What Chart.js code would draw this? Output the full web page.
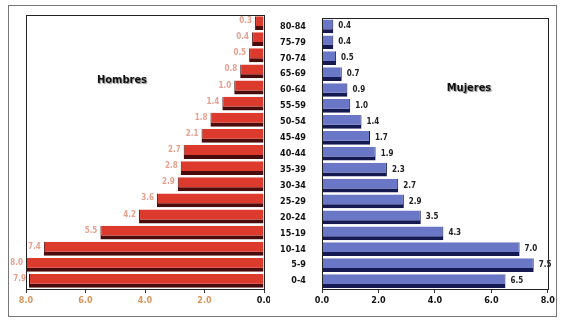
<!DOCTYPE html>
<html>
<head>
<meta charset="utf-8">
<script src="https://cdn.jsdelivr.net/npm/chart.js@4/dist/chart.umd.min.js"></script>
<style>
  body { margin:0; background:#fff; }
  #wrap { position:relative; width:563px; height:321px; background:#fff; }
  .box { position:absolute; }
</style>
</head>
<body>
<div id="wrap">
  <div class="box" style="left:8px;top:5px;width:547px;height:310px;border:1px solid #777;"></div>
  <div class="box" style="left:8px;top:5px;width:262px;height:311px;"><canvas id="c-hombres"></canvas></div>
  <div class="box" style="left:270px;top:5px;width:287px;height:311px;"><canvas id="c-mujeres"></canvas></div>
</div>
<script>
// grupos de edad, de arriba a abajo
const ageGroups = ['80-84','75-79','70-74','65-69','60-64','55-59','50-54','45-49','40-44','35-39','30-34','25-29','20-24','15-19','10-14','5-9','0-4'];
const hombres = [0.3, 0.4, 0.5, 0.8, 1.0, 1.4, 1.8, 2.1, 2.7, 2.8, 2.9, 3.6, 4.2, 5.5, 7.4, 8.0, 7.9];
const mujeres = [0.4, 0.4, 0.5, 0.7, 0.9, 1.0, 1.4, 1.7, 1.9, 2.3, 2.7, 2.9, 3.5, 4.3, 7.0, 7.5, 6.5];
const xTicks = [0, 2, 4, 6, 8];

const FONT = "'Liberation Sans Narrow', 'DejaVu Sans Condensed', 'Liberation Sans', Arial, sans-serif";

function framePlugin(title, tx, ty, labelSide, labelColor) {
  return {
    id: 'extras',
    afterDatasetsDraw(chart) {
      const ctx = chart.ctx, a = chart.chartArea;
      ctx.save();
      ctx.strokeStyle = '#222'; ctx.lineWidth = 1;
      ctx.strokeRect(Math.round(a.left) + 0.5, Math.round(a.top) + 0.5, Math.round(a.right - a.left), Math.round(a.bottom - a.top));
      // etiquetas de valor
      ctx.font = 'bold 8px ' + FONT;
      ctx.fillStyle = labelColor;
      ctx.textBaseline = 'middle';
      const meta = chart.getDatasetMeta(0);
      meta.data.forEach((el, i) => {
        const v = chart.data.datasets[0].data[i].toFixed(1);
        if (labelSide === 'left') { ctx.textAlign = 'right'; ctx.fillText(v, el.x - 3, el.y - 2); }
        else { ctx.textAlign = 'left'; ctx.fillText(v, el.x + 5, el.y); }
      });
      // titulo
      ctx.font = 'bold 11px ' + FONT;
      ctx.fillStyle = '#111';
      ctx.textAlign = 'center';
      ctx.shadowColor = 'rgba(0,0,0,0.45)'; ctx.shadowOffsetX = 1; ctx.shadowOffsetY = 1; ctx.shadowBlur = 1;
      ctx.fillText(title, tx, ty);
      ctx.restore();
    }
  };
}

function xScale(reverse, tickColor) {
  return {
    min: 0, max: 8, reverse,
    afterBuildTicks: s => { s.ticks = xTicks.map(v => ({ value: v })); },
    afterFit: s => { s.height = 18; },
    grid: { display: true, drawOnChartArea: false, drawTicks: true, tickLength: 4, color: '#333' },
    border: { display: false },
    ticks: { padding: 2, color: tickColor, font: { family: FONT, size: 9, weight: 'bold' }, callback: v => v.toFixed(1) }
  };
}

Chart.defaults.font.family = FONT;

new Chart(document.getElementById('c-hombres'), {
  type: 'bar',
  data: { labels: ageGroups, datasets: [{
    data: hombres,
    backgroundColor: '#dc3a2c',
    borderColor: '#4a0c0c',
    borderWidth: { top: 0, bottom: 4, left: 1, right: 0 },
    borderSkipped: false,
    barPercentage: 0.86, categoryPercentage: 1
  }] },
  options: {
    indexAxis: 'y', responsive: true, maintainAspectRatio: false, animation: false,
    layout: { padding: { left: 18, right: 6, top: 10, bottom: 9 } },
    plugins: { legend: { display: false }, tooltip: { enabled: false } },
    scales: {
      x: xScale(true, ctx => ctx.tick && ctx.tick.value === 0 ? '#111' : '#d8955a'),
      y: { position: 'right', display: false }
    }
  },
  plugins: [framePlugin('Hombres', 114, 75, 'left', '#e8a090')]
});

new Chart(document.getElementById('c-mujeres'), {
  type: 'bar',
  data: { labels: ageGroups, datasets: [{
    data: mujeres,
    backgroundColor: '#6a76c6',
    borderColor: '#151a52',
    borderWidth: { top: 0, bottom: 4, left: 0, right: 1 },
    borderSkipped: false,
    barPercentage: 0.86, categoryPercentage: 1
  }] },
  options: {
    indexAxis: 'y', responsive: true, maintainAspectRatio: false, animation: false,
    layout: { padding: { left: 0, right: 6, top: 10, bottom: 9 } },
    plugins: { legend: { display: false }, tooltip: { enabled: false } },
    scales: {
      x: xScale(false, '#111'),
      y: {
        afterFit: s => { s.width = 52; },
        grid: { display: false }, border: { display: false },
        ticks: { padding: 8, color: '#111', font: { family: FONT, size: 9, weight: 'bold' } }
      }
    }
  },
  plugins: [framePlugin('Mujeres', 199, 83, 'right', '#222')]
});
</script>
</body>
</html>
